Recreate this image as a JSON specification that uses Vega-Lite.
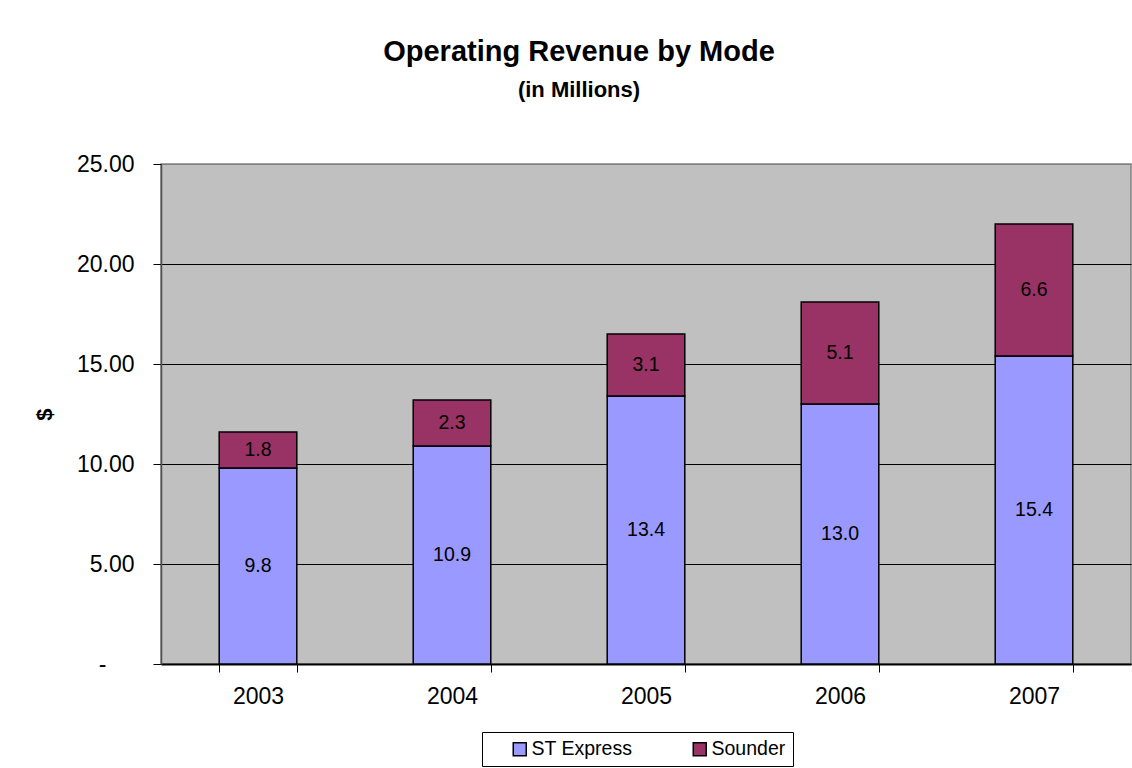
{
  "$schema": "https://vega.github.io/schema/vega-lite/v6.json",
  "autosize": {"type": "none"},
  "width": 970,
  "height": 500,
  "padding": {"left": 161, "top": 164, "right": 1, "bottom": 104},
  "background": "white",
  "config": {
    "font": "Liberation Sans",
    "view": {"fill": "#C0C0C0", "stroke": "#808080", "strokeWidth": 1.5},
    "axisX": {
      "labelAngle": 0, "labelFontSize": 23, "labelColor": "black", "labelPadding": 13,
      "tickBand": "extent", "tickColor": "black", "tickSize": 8, "tickWidth": 1,
      "domainColor": "black", "domainWidth": 2, "grid": false
    },
    "axisY": {
      "labelFontSize": 23, "labelColor": "black",
      "tickColor": "black", "tickSize": 8, "tickWidth": 1,
      "domainColor": "#505050", "domainWidth": 1.5,
      "gridWidth": 1,
      "titleFontSize": 22, "titleFontWeight": "bold", "titleColor": "black"
    }
  },
  "title": {
    "text": "Operating Revenue by Mode",
    "subtitle": "(in Millions)",
    "anchor": "middle",
    "dx": -67,
    "fontSize": 29,
    "fontWeight": "bold",
    "color": "black",
    "subtitleFontSize": 22,
    "subtitleFontWeight": "bold",
    "subtitleColor": "black",
    "subtitlePadding": 13,
    "offset": 52,
    "font": "Liberation Sans",
    "subtitleFont": "Liberation Sans"
  },
  "data": {
    "values": [
      {"year": "2003", "mode": "ST Express", "value": 9.8},
      {"year": "2003", "mode": "Sounder", "value": 1.8},
      {"year": "2004", "mode": "ST Express", "value": 10.9},
      {"year": "2004", "mode": "Sounder", "value": 2.3},
      {"year": "2005", "mode": "ST Express", "value": 13.4},
      {"year": "2005", "mode": "Sounder", "value": 3.1},
      {"year": "2006", "mode": "ST Express", "value": 13.0},
      {"year": "2006", "mode": "Sounder", "value": 5.1},
      {"year": "2007", "mode": "ST Express", "value": 15.4},
      {"year": "2007", "mode": "Sounder", "value": 6.6}
    ]
  },
  "transform": [
    {"stack": "value", "groupby": ["year"], "sort": [{"field": "mode", "order": "ascending"}], "as": ["v0", "v1"]},
    {"calculate": "(datum.v0 + datum.v1) / 2", "as": "mid"}
  ],
  "layer": [
    {
      "mark": {"type": "bar", "stroke": "black", "strokeWidth": 1.5},
      "encoding": {
        "x": {"field": "year", "type": "nominal", "title": null,
              "scale": {"paddingInner": 0.6, "paddingOuter": 0.3}},
        "y": {"field": "v1", "type": "quantitative", "title": "$",
              "scale": {"domain": [0, 25], "nice": false, "zero": true},
              "axis": {
                "values": [0, 5, 10, 15, 20, 25],
                "labelExpr": "datum.value == 0 ? '-' : format(datum.value, '.2f')",
                "labelPadding": {"condition": {"test": "datum.value == 0", "value": 47}, "value": 19},
                "gridColor": {"condition": {"test": "datum.value == 25", "value": "#808080"}, "value": "black"},
                "titleAngle": 270, "titleX": -117, "titleY": 250, "titleBaseline": "middle", "titleAlign": "center"
              }},
        "y2": {"field": "v0"},
        "color": {"field": "mode", "type": "nominal",
                  "scale": {"domain": ["ST Express", "Sounder"], "range": ["#9999FF", "#993366"]},
                  "legend": {
                    "orient": "none", "legendX": 321, "legendY": 568,
                    "direction": "horizontal", "title": null,
                    "strokeColor": "black", "fillColor": "white", "padding": 7,
                    "symbolType": "square", "symbolSize": 169,
                    "symbolStrokeColor": "black", "symbolStrokeWidth": 1.5,
                    "labelFontSize": 19.5, "labelColor": "black", "labelOffset": 2,
                    "columnPadding": 36, "symbolOffset": 21
                  }}
      }
    },
    {
      "mark": {"type": "text", "fontSize": 19.5, "color": "black"},
      "encoding": {
        "x": {"field": "year", "type": "nominal", "title": null},
        "y": {"field": "mid", "type": "quantitative", "title": "$"},
        "text": {"field": "value", "type": "quantitative", "format": ".1f"}
      }
    }
  ]
}
